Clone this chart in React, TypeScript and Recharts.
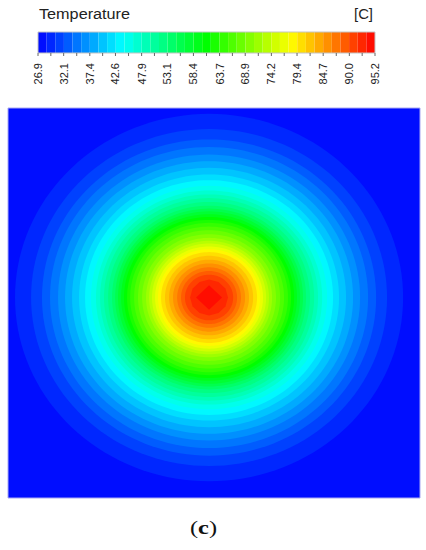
import React from 'react';
import { ComposedChart, XAxis, YAxis, ReferenceArea, Area } from 'recharts';

// ---- data ----
const T_MIN = 26.9;
const T_MAX = 95.2;
const TICK_LABELS = ['26.9', '32.1', '37.4', '42.6', '47.9', '53.1', '58.4', '63.7', '68.9', '74.2', '79.4', '84.7', '90.0', '95.2'];
const TICK_VALUES = TICK_LABELS.map(Number);
const BAND_COUNT = 39;
// contour radii (outer -> inner), as a fraction of the half-width of the plate
const RING_RADII = [
  0.942, 0.864, 0.811, 0.772, 0.733, 0.699, 0.665, 0.631, 0.602, 0.573,
  0.549, 0.529, 0.51, 0.49, 0.471, 0.456, 0.442, 0.427, 0.413, 0.398,
  0.383, 0.364, 0.345, 0.325, 0.306, 0.291, 0.277, 0.262, 0.248, 0.233,
  0.214, 0.194, 0.175, 0.155, 0.136, 0.117, 0.092, 0.063,
];
// number of half-outline vertices per ring (mesh: the core is a diamond)
const RING_SEGMENTS = RING_RADII.map((_, i) => (i === RING_RADII.length - 1 ? 2 : i === RING_RADII.length - 2 ? 6 : 72));
const HOT_SPOT = { x: -0.024, y: 0.028 };

// ---- colour map (blue - cyan - green - yellow - red) ----
const STOPS: [number, number, number][] = [
  [0, 0, 255],
  [0, 255, 255],
  [0, 255, 0],
  [255, 255, 0],
  [255, 0, 0],
];
function rainbow(t: number): string {
  const s = Math.max(0, Math.min(1, t)) * (STOPS.length - 1);
  const i = Math.min(STOPS.length - 2, Math.floor(s));
  const f = s - i;
  const c = STOPS[i].map((v, k) => Math.round(v + (STOPS[i + 1][k] - v) * f));
  return `rgb(${c[0]},${c[1]},${c[2]})`;
}

const BANDS = Array.from({ length: BAND_COUNT }, (_, k) => {
  const w = (T_MAX - T_MIN) / BAND_COUNT;
  const lo = T_MIN + k * w;
  const hi = T_MIN + (k + 1) * w;
  return {
    lo,
    hi,
    color: rainbow((k + 0.5) / BAND_COUNT),
    points: [
      { t: lo, v: [0, 1] },
      { t: hi, v: [0, 1] },
    ],
  };
});

const MINOR_TICKS = TICK_VALUES.slice(0, -1).map((v, i) => (v + TICK_VALUES[i + 1]) / 2);
const ALL_TICKS = [...TICK_VALUES, ...MINOR_TICKS].sort((a, b) => a - b);

const RINGS = RING_RADII.map((r, i) => {
  const n = RING_SEGMENTS[i];
  const points = Array.from({ length: n + 1 }, (_, j) => {
    const a = Math.PI - (Math.PI * j) / n;
    const h = r * Math.sin(a);
    return { x: HOT_SPOT.x + r * Math.cos(a), y: [HOT_SPOT.y - h, HOT_SPOT.y + h] };
  });
  return { points, color: BANDS[i + 1].color };
});

const SANS = 'Liberation Sans, Arial, sans-serif';

const TickLabel = (props: any) => {
  const { x, y, payload } = props;
  const idx = TICK_VALUES.indexOf(payload.value);
  if (idx < 0) return <g />;
  return (
    <text
      x={x}
      y={y}
      transform={`rotate(-90 ${x} ${y})`}
      textAnchor="end"
      dy="0.36em"
      fontSize={11}
      fontFamily={SANS}
      fill="#222"
    >
      {TICK_LABELS[idx]}
    </text>
  );
};

export default function App() {
  return (
    <div style={{ position: 'absolute', left: 0, top: 0, width: 426, height: 550, overflow: 'hidden', background: '#fff' }}>
      <svg width={426} height={30} style={{ position: 'absolute', left: 0, top: 0 }}>
        <text x={39} y={19} fontSize={14} fontFamily={SANS} fill="#222" textLength={91} lengthAdjust="spacingAndGlyphs">
          Temperature
        </text>
        <text x={354} y={19} fontSize={14} fontFamily={SANS} fill="#222" textLength={19} lengthAdjust="spacingAndGlyphs">
          [C]
        </text>
      </svg>

      <div style={{ position: 'absolute', left: 0, top: 0 }}>
        <ComposedChart width={426} height={100} margin={{ top: 32, right: 51, bottom: 17, left: 38 }}>
          <XAxis
            type="number"
            dataKey="t"
            domain={[T_MIN, T_MAX]}
            ticks={ALL_TICKS}
            interval={0}
            height={30}
            tickSize={3}
            tickMargin={7}
            axisLine={false}
            tickLine={{ stroke: '#666' }}
            tick={<TickLabel />}
            allowDataOverflow
          />
          <YAxis type="number" domain={[0, 1]} hide allowDataOverflow />
          {BANDS.map((b, i) => (
            <Area
              key={i}
              data={b.points}
              dataKey="v"
              type="linear"
              stroke={b.color}
              strokeWidth={0}
              fill={b.color}
              fillOpacity={1}
              dot={false}
              activeDot={false}
              isAnimationActive={false}
            />
          ))}
          <ReferenceArea x1={T_MIN} x2={T_MAX} y1={0} y2={1} fill="none" stroke="#c4c4c4" strokeWidth={1} ifOverflow="visible" />
        </ComposedChart>
      </div>

      <div style={{ position: 'absolute', left: 0, top: 100 }}>
        <ComposedChart width={426} height={410} margin={{ top: 8, right: 6, bottom: 12, left: 8 }}>
          <XAxis type="number" dataKey="x" domain={[-1, 1]} hide allowDataOverflow />
          <YAxis type="number" domain={[-1, 1]} hide allowDataOverflow />
          <ReferenceArea x1={-1} x2={1} y1={-1} y2={1} fill={BANDS[0].color} fillOpacity={1} stroke="#a8a8f2" strokeWidth={1} ifOverflow="visible" />
          {RINGS.map((ring, i) => (
            <Area
              key={i}
              data={ring.points}
              dataKey="y"
              type="linear"
              stroke="none"
              fill={ring.color}
              fillOpacity={1}
              dot={false}
              activeDot={false}
              isAnimationActive={false}
            />
          ))}
        </ComposedChart>
      </div>

      <svg width={426} height={30} style={{ position: 'absolute', left: 0, top: 516 }}>
        <text x={190} y={18} fontSize={18} fontFamily="Liberation Serif, serif" fill="#111" textLength={27} lengthAdjust="spacingAndGlyphs">
          (<tspan fontWeight="bold">c</tspan>)
        </text>
      </svg>
    </div>
  );
}
